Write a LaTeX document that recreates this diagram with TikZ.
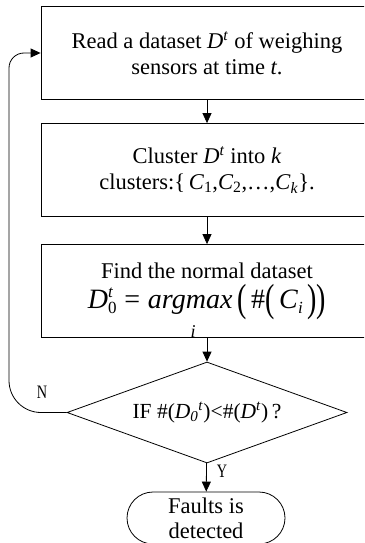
\documentclass[tikz,border=0pt]{standalone}
\usepackage{fontspec}
\usepackage{graphicx}
\setmainfont{Liberation Serif}
\usetikzlibrary{arrows.meta,shapes.geometric,shapes.misc}
\newcommand{\vv}[1]{\textit{#1}}
\newcommand{\bigpar}[1]{\raisebox{-3pt}{\scalebox{1}[1.4]{#1}}}
\newcommand{\narrowlbl}[1]{\scalebox{0.75}[1]{#1}}
\newcommand{\scr}[1]{{\fontsize{17}{17}\selectfont #1}}
\begin{document}
\begin{tikzpicture}[x=1pt,y=-1pt,
  proc/.style={draw, line width=0.8pt, minimum width=332pt, minimum height=93pt,
    align=center, inner sep=0pt, font=\fontsize{22.5}{26}\selectfont},
  decide/.style={draw, diamond, line width=0.8pt, aspect=2.77, minimum width=280pt,
    minimum height=101pt, inner sep=0pt, font=\fontsize{21.5}{24}\selectfont},
  term/.style={draw, rounded rectangle, line width=0.8pt, minimum width=158pt,
    minimum height=52pt, inner sep=0pt, align=center, font=\fontsize{22.5}{25}\selectfont},
  lbl/.style={inner sep=0pt, font=\fontsize{19}{19}\selectfont},
  arr/.style={-{Triangle[length=10pt,width=9pt]}, line width=0.8pt}]
\clip (0,0) rectangle (364,543);
\node[proc] (b1) at (207,53) {Read a dataset \vv{D}\textsuperscript{\vv{t}} of weighing\\sensors at time \vv{t}.};
\node[proc] (b2) at (207,170) {Cluster \vv{D}\textsuperscript{\vv{t}} into \vv{k}\\clusters:\{\,\vv{C}\textsubscript{1},\vv{C}\textsubscript{2},…,\vv{C}\textsubscript{\vv{k}}\}.};
\node[proc] (b3) at (207,291) {Find the normal dataset\\[4pt]{\fontsize{28}{30}\selectfont\vv{D}\rlap{\raisebox{10.5pt}{\scr{\vv{t}}}}\raisebox{-5pt}{\scr{0}}\;=\;\vv{argmax}\,\bigpar{(}\,\#\bigpar{(}\,\vv{C}\raisebox{-5pt}{\scr{\vv{i}}}\,\bigpar{)}\bigpar{)}}};
\node[lbl, font=\fontsize{18}{18}\selectfont] (argi) at (193,332) {\vv{i}};
\node[decide] (d) at (207,412.5) {IF \#(\vv{D}\textsubscript{\vv{0}}\textsuperscript{\vv{t}})<\#(\vv{D}\textsuperscript{\vv{t}})\,?};
\node[term] (t) at (206,518) {Faults is\\detected};
\node[lbl] (n) at (42,392) {\narrowlbl{N}};
\node[lbl] (y) at (222,471) {\narrowlbl{Y}};
\draw[arr] (b1) -- (b2);
\draw[arr] (b2) -- (b3);
\draw[arr] (b3) -- (d);
\draw[arr] (d) -- (t);
\draw[arr] (d.west) -- (41,412.5) .. controls (23.3,412.5) and (9,398.2) .. (9,380.5)
  -- (9,68) .. controls (9,59.7) and (15.7,53) .. (24,53) -- (b1.west);
\end{tikzpicture}
\end{document}
